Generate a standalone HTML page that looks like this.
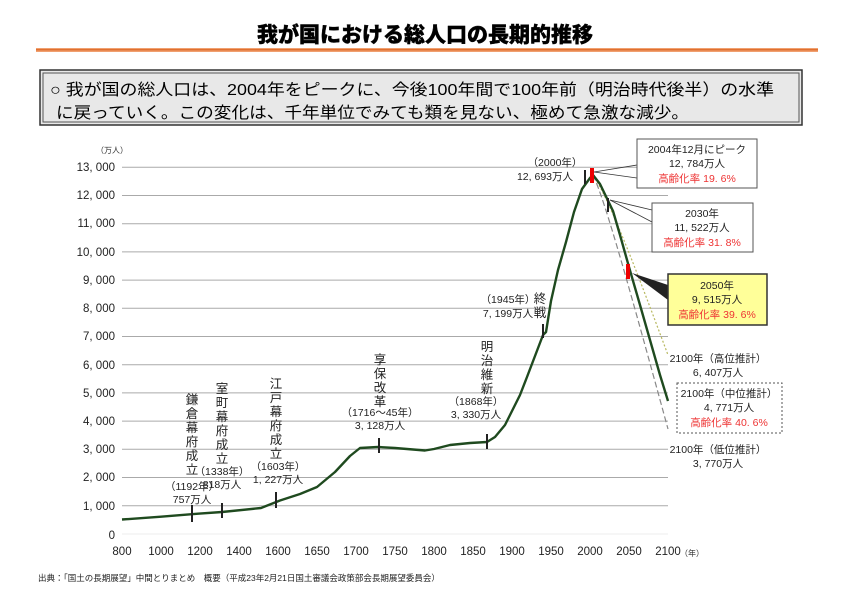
<!DOCTYPE html>
<html><head><meta charset="utf-8"><style>
body{margin:0;background:#fff;}
svg text{font-family:"Liberation Sans","Noto Sans CJK JP",sans-serif;}
</style></head><body>
<svg width="850" height="600" viewBox="0 0 850 600" xmlns="http://www.w3.org/2000/svg">
<text x="425" y="42" text-anchor="middle" font-size="21" font-weight="900" fill="#000" stroke="#000" stroke-width="0.4">我が国における総人口の長期的推移</text>
<rect x="36" y="48" width="782" height="4" fill="#f0a070"/>
<rect x="36" y="49" width="782" height="1.5" fill="#e07030"/>
<rect x="40" y="70" width="762" height="55" fill="#e8e8e8" stroke="#333" stroke-width="1.5"/>
<rect x="43" y="73" width="756" height="49" fill="none" stroke="#555" stroke-width="1"/>
<text x="50" y="95" font-size="16" fill="#000" textLength="724" lengthAdjust="spacingAndGlyphs">○  我が国の総人口は、2004年をピークに、今後100年間で100年前（明治時代後半）の水準</text>
<text x="56" y="118" font-size="16" fill="#000" textLength="633" lengthAdjust="spacingAndGlyphs">に戻っていく。この変化は、千年単位でみても類を見ない、極めて急激な減少。</text>
<g stroke="#aaa" stroke-width="1">
<line x1="122" y1="167.3" x2="668" y2="167.3"/><line x1="122" y1="195.5" x2="668" y2="195.5"/>
<line x1="122" y1="223.7" x2="668" y2="223.7"/><line x1="122" y1="251.9" x2="668" y2="251.9"/>
<line x1="122" y1="280.1" x2="668" y2="280.1"/><line x1="122" y1="308.3" x2="668" y2="308.3"/>
<line x1="122" y1="336.5" x2="668" y2="336.5"/><line x1="122" y1="364.7" x2="668" y2="364.7"/>
<line x1="122" y1="392.9" x2="668" y2="392.9"/><line x1="122" y1="421.1" x2="668" y2="421.1"/>
<line x1="122" y1="449.3" x2="668" y2="449.3"/><line x1="122" y1="477.5" x2="668" y2="477.5"/>
<line x1="122" y1="505.7" x2="668" y2="505.7"/>
</g>
<line x1="122" y1="534" x2="668" y2="534" stroke="#eee"/>
<g font-size="11.5" fill="#222" text-anchor="end">
<text x="115" y="171">13, 000</text><text x="115" y="199">12, 000</text><text x="115" y="227">11, 000</text>
<text x="115" y="256">10, 000</text><text x="115" y="284">9, 000</text><text x="115" y="312">8, 000</text>
<text x="115" y="340">7, 000</text><text x="115" y="369">6, 000</text><text x="115" y="397">5, 000</text>
<text x="115" y="425">4, 000</text><text x="115" y="453">3, 000</text><text x="115" y="481">2, 000</text>
<text x="115" y="510">1, 000</text><text x="115" y="539">0</text>
</g>
<text x="96" y="153" font-size="8" fill="#333">（万人）</text>
<g font-size="11.5" fill="#222" text-anchor="middle">
<text x="122" y="555">800</text><text x="161" y="555">1000</text><text x="200" y="555">1200</text>
<text x="239" y="555">1400</text><text x="278" y="555">1600</text><text x="317" y="555">1650</text>
<text x="356" y="555">1700</text><text x="395" y="555">1750</text><text x="434" y="555">1800</text>
<text x="473" y="555">1850</text><text x="512" y="555">1900</text><text x="551" y="555">1950</text>
<text x="590" y="555">2000</text><text x="629" y="555">2050</text><text x="668" y="555">2100</text>
</g>
<text x="680" y="556" font-size="8" fill="#333">（年）</text>
<path d="M593,175 C610,200 640,280 668,355" fill="none" stroke="#b8b860" stroke-width="1.2" stroke-dasharray="2,2"/>
<path d="M593,175 C605,200 630,290 668,429" fill="none" stroke="#888" stroke-width="1.2" stroke-dasharray="6,3"/>
<polyline fill="none" stroke="#1f4a1f" stroke-width="2.4" stroke-linejoin="round" points="122,519.5 161,516.7 198,513.7 222,512 261,508 280,500.5 300,494 317,487 335,472 350,456 360,448 378,447 395,448 425,450.5 434,449 450,445 470,443 487,442 495,437 505,425 512,411 520,395 527,377 535,356 543,335 546,332 551,301 558,270 566,242 574,212 582,189 590,178 593,175 600,184 613,211 620,235 629,267 640,305 650,340 660,375 668,401"/>
<g stroke="#222" stroke-width="2">
<line x1="192" y1="505" x2="192" y2="522"/><line x1="222" y1="503" x2="222" y2="518"/>
<line x1="276" y1="492" x2="276" y2="508"/><line x1="379" y1="438" x2="379" y2="453"/>
<line x1="487" y1="434" x2="487" y2="449"/><line x1="543" y1="324" x2="543" y2="338"/>
<line x1="585" y1="170" x2="585" y2="184"/><line x1="608" y1="198" x2="608" y2="212"/>
</g>
<rect x="590" y="168" width="4" height="15" fill="#e00"/>
<rect x="626" y="264" width="4" height="15" fill="#e00"/>
<g font-size="10.5" fill="#222" text-anchor="middle">
<text x="192" y="490">（1192年）</text><text x="192" y="503">757万人</text>
<text x="222" y="475">（1338年）</text><text x="222" y="488">818万人</text>
<text x="278" y="470">（1603年）</text><text x="278" y="483">1, 227万人</text>
<text x="380" y="416">（1716～45年）</text><text x="380" y="429">3, 128万人</text>
<text x="476" y="405">（1868年）</text><text x="476" y="418">3, 330万人</text>
<text x="508" y="303">（1945年）</text><text x="508" y="317">7, 199万人</text>
<text x="555" y="166">（2000年）</text><text x="545" y="180">12, 693万人</text>
</g>
<g font-size="12.5" fill="#222" text-anchor="middle">
<text x="192" y="404">鎌</text><text x="192" y="418">倉</text><text x="192" y="432">幕</text><text x="192" y="446">府</text><text x="192" y="460">成</text><text x="192" y="474">立</text>
<text x="222" y="393">室</text><text x="222" y="407">町</text><text x="222" y="421">幕</text><text x="222" y="435">府</text><text x="222" y="449">成</text><text x="222" y="463">立</text>
<text x="276" y="388">江</text><text x="276" y="402">戸</text><text x="276" y="416">幕</text><text x="276" y="430">府</text><text x="276" y="444">成</text><text x="276" y="458">立</text>
<text x="380" y="364">享</text><text x="380" y="378">保</text><text x="380" y="392">改</text><text x="380" y="406">革</text>
<text x="487" y="351">明</text><text x="487" y="365">治</text><text x="487" y="379">維</text><text x="487" y="393">新</text>
<text x="540" y="303">終</text><text x="540" y="317">戦</text>
</g>
<polyline points="594,172 637,165" fill="none" stroke="#333" stroke-width="0.8"/>
<polyline points="594,172 637,178" fill="none" stroke="#333" stroke-width="0.8"/>
<rect x="637" y="139" width="120" height="49" fill="#fff" stroke="#555"/>
<g font-size="10.5" text-anchor="middle"><text x="697" y="153" fill="#222">2004年12月にピーク</text><text x="697" y="167" fill="#222">12, 784万人</text><text x="697" y="182" fill="#e33">高齢化率 19. 6%</text></g>
<polyline points="610,200 652,210" fill="none" stroke="#333" stroke-width="0.8"/>
<polyline points="610,200 652,222" fill="none" stroke="#333" stroke-width="0.8"/>
<rect x="652" y="203" width="101" height="49" fill="#fff" stroke="#555"/>
<g font-size="10.5" text-anchor="middle"><text x="702" y="217" fill="#222">2030年</text><text x="702" y="231" fill="#222">11, 522万人</text><text x="702" y="246" fill="#e33">高齢化率 31. 8%</text></g>
<polygon points="632,273 668,285 668,300" fill="#222"/>
<rect x="668" y="274" width="99" height="51" fill="#ffff99" stroke="#333" stroke-width="1.5"/>
<g font-size="10.5" text-anchor="middle"><text x="717" y="289" fill="#222">2050年</text><text x="717" y="303" fill="#222">9, 515万人</text><text x="717" y="318" fill="#e33">高齢化率 39. 6%</text></g>
<g font-size="10.5" text-anchor="middle">
<text x="718" y="362" fill="#222">2100年（高位推計）</text><text x="718" y="376" fill="#222">6, 407万人</text>
<text x="718" y="453" fill="#222">2100年（低位推計）</text><text x="718" y="467" fill="#222">3, 770万人</text>
</g>
<rect x="677" y="383" width="105" height="50" fill="#fff" stroke="#555" stroke-dasharray="2,2"/>
<g font-size="10.5" text-anchor="middle"><text x="729" y="397" fill="#222">2100年（中位推計）</text><text x="729" y="411" fill="#222">4, 771万人</text><text x="729" y="426" fill="#e33">高齢化率 40. 6%</text></g>
<text x="38" y="581" font-size="8.5" fill="#222">出典：「国土の長期展望」中間とりまとめ　概要（平成23年2月21日国土審議会政策部会長期展望委員会）</text>
</svg>
</body></html>
